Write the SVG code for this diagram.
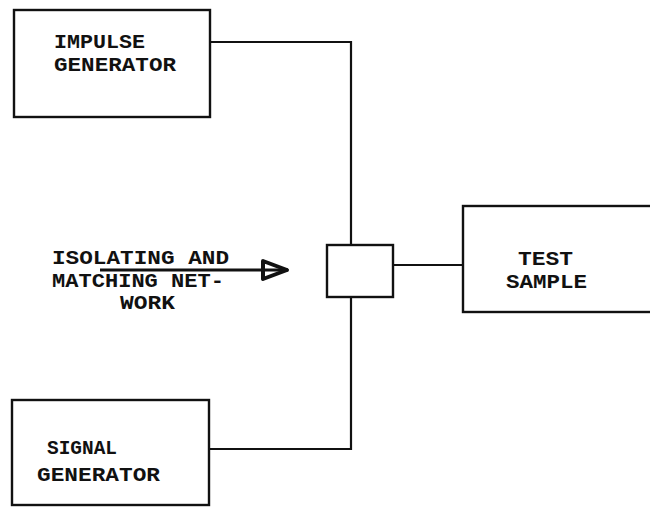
<svg xmlns="http://www.w3.org/2000/svg" width="650" height="508" viewBox="0 0 650 508">
<style>
.box{fill:none;stroke:#111;stroke-width:2.4}
.ln{fill:none;stroke:#111;stroke-width:2.2}
text{font-family:"Liberation Mono","DejaVu Sans Mono",monospace;font-weight:bold;font-size:20px;fill:#111}
</style>
<defs>
<marker id="arr" markerWidth="32" markerHeight="26" refX="28" refY="12" markerUnits="userSpaceOnUse" orient="auto">
<path d="M3,3 L27,12 L3,21 Z" fill="none" stroke="#111" stroke-width="4" stroke-linejoin="round"/>
</marker>
</defs>
<rect width="650" height="508" fill="#fff"/>
<g id="connectors">
<polyline class="ln" points="210,42 351,42 351,245"/>
<polyline class="ln" points="351,297 351,449 209,449"/>
<line class="ln" x1="393" y1="265" x2="463" y2="265"/>
<line x1="100" y1="270" x2="288" y2="270" stroke="#111" stroke-width="3.2" marker-end="url(#arr)"/>
</g>
<g id="impulse-generator">
<rect class="box" x="14" y="10" width="196" height="107"/>
<text x="54" y="48" textLength="91" lengthAdjust="spacingAndGlyphs">IMPULSE</text>
<text x="54" y="71" textLength="122" lengthAdjust="spacingAndGlyphs">GENERATOR</text>
</g>
<g id="network">
<rect class="box" x="327" y="245" width="66" height="52"/>
</g>
<g id="network-label">
<text x="52" y="264" textLength="177" lengthAdjust="spacingAndGlyphs">ISOLATING AND</text>
<text x="52" y="287" textLength="172" lengthAdjust="spacingAndGlyphs">MATCHING NET-</text>
<text x="120" y="309" textLength="55" lengthAdjust="spacingAndGlyphs">WORK</text>
</g>
<g id="test-sample">
<rect class="box" x="463" y="206" width="200" height="106"/>
<text x="518" y="265" textLength="55" lengthAdjust="spacingAndGlyphs">TEST</text>
<text x="506" y="288" textLength="81" lengthAdjust="spacingAndGlyphs">SAMPLE</text>
</g>
<g id="signal-generator">
<rect class="box" x="12" y="400" width="197" height="105"/>
<text x="47" y="454" textLength="70" lengthAdjust="spacingAndGlyphs">SIGNAL</text>
<text x="37" y="481" textLength="123" lengthAdjust="spacingAndGlyphs">GENERATOR</text>
</g>
</svg>
